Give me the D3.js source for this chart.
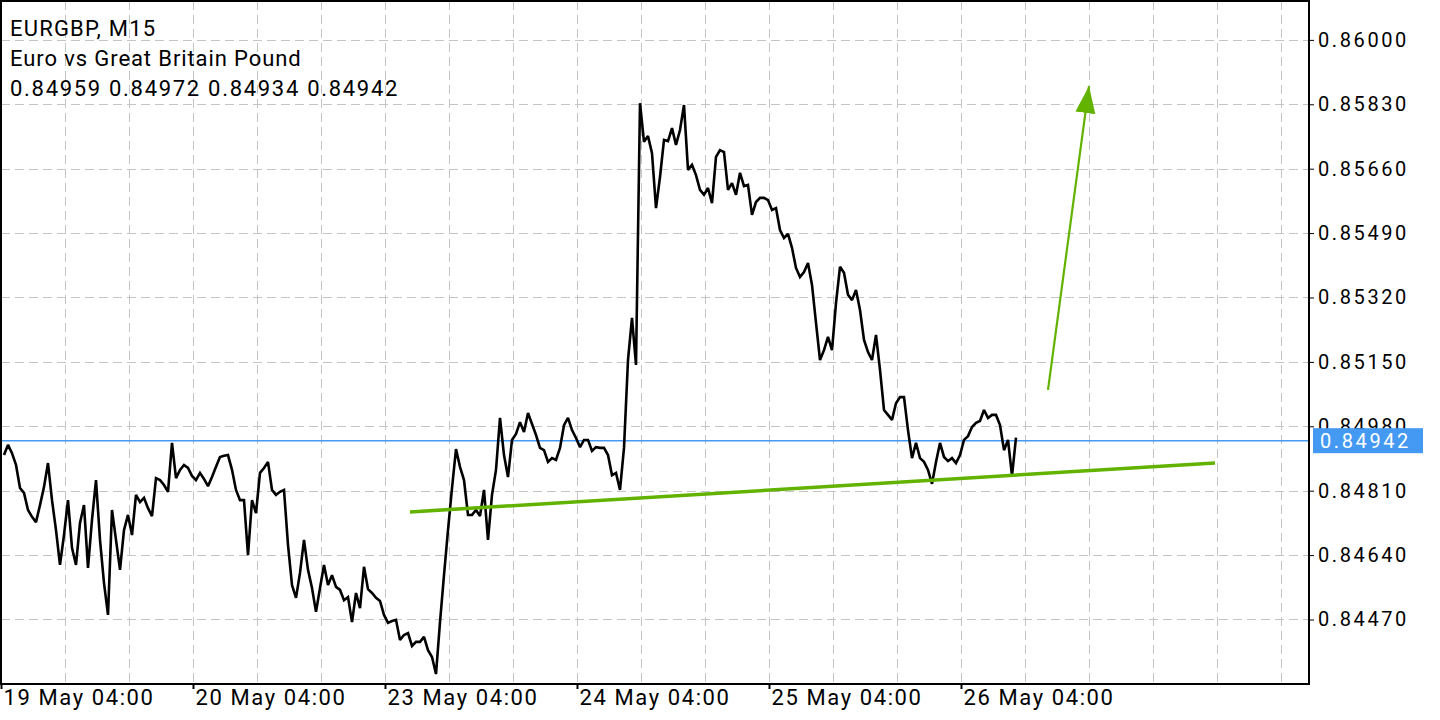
<!DOCTYPE html>
<html><head><meta charset="utf-8">
<script src="https://cdn.jsdelivr.net/npm/d3@7"></script>
<style>
body{margin:0;background:#fff;overflow:hidden}
text{font-family:Roboto, "Noto Sans", sans-serif}
</style>
</head><body><svg id="c" width="1440" height="720"></svg>
<script>
// ---- data ----
const titleLines = ["EURGBP, M15", "Euro vs Great Britain Pound", "0.84959 0.84972 0.84934 0.84942"];
// close prices sampled every 2 bars (30 minutes) of the M15 chart
const closes = [
0.84904,0.84931,0.84909,0.84878,0.84817,0.84804,0.84759,0.84741,0.84727,0.84772,
0.84820,0.84883,0.84785,0.84706,0.84614,0.84693,0.84785,0.84659,0.84614,0.84725,
0.84772,0.84606,0.84733,0.84838,0.84680,0.84566,0.84482,0.84759,0.84680,0.84601,
0.84706,0.84746,0.84693,0.84799,0.84780,0.84791,0.84764,0.84743,0.84843,0.84838,
0.84825,0.84807,0.84936,0.84843,0.84865,0.84878,0.84870,0.84849,0.84838,0.84857,
0.84841,0.84822,0.84846,0.84873,0.84899,0.84902,0.84904,0.84865,0.84812,0.84785,
0.84785,0.84640,0.84785,0.84751,0.84857,0.84870,0.84886,0.84812,0.84799,0.84807,
0.84812,0.84667,0.84561,0.84527,0.84593,0.84680,0.84601,0.84553,0.84490,0.84553,
0.84614,0.84561,0.84587,0.84556,0.84548,
0.84521,0.84529,0.84463,0.84540,0.84500,0.84609,0.84550,0.84540,0.84527,0.84519,
0.84482,0.84461,0.84466,0.84469,0.84416,0.84429,0.84434,0.84400,0.84411,0.84411,
0.84424,0.84389,0.84371,0.84326,0.84463,0.84587,0.84706,0.84817,0.84920,0.84873,
0.84838,0.84746,0.84746,0.84759,0.84743,0.84812,0.84680,0.84799,0.84865,0.85002,
0.84904,0.84846,0.84944,0.84960,0.84991,0.84965,0.85015,0.84986,0.84957,0.84923,
0.84917,0.84886,0.84896,0.84891,0.84923,0.84983,0.85002,0.84970,0.84949,0.84925,
0.84944,0.84944,0.84915,0.84925,0.84923,0.84923,0.84904,0.84851,0.84857,0.84812,
0.84923,0.85155,0.85266,0.85142,0.85833,0.85731,0.85746,0.85701,0.85556,0.85638,
0.85736,0.85733,0.85767,0.85723,0.85762,
0.85828,0.85657,0.85670,0.85643,0.85604,0.85591,0.85609,0.85569,0.85691,0.85709,
0.85704,0.85604,0.85622,0.85591,0.85649,0.85614,0.85617,0.85538,0.85572,0.85583,
0.85583,0.85577,0.85551,0.85556,0.85498,0.85477,0.85488,0.85451,0.85398,0.85374,
0.85387,0.85411,0.85353,0.85253,0.85155,0.85181,0.85216,0.85181,0.85305,0.85401,
0.85385,0.85327,0.85313,0.85340,0.85287,0.85208,0.85176,0.85155,0.85221,0.85129,
0.85023,0.85010,0.84997,0.85041,0.85057,0.85057,0.84970,0.84896,0.84936,0.84896,
0.84886,0.84865,0.84828,0.84886,0.84936,0.84899,0.84888,0.84896,0.84883,0.84904,
0.84944,0.84954,0.84978,0.84989,0.84994,0.85023,0.85002,0.85010,0.85010,0.84983,
0.84917,0.84944,0.84849,0.84950
];
const firstSampleBar = 1.5;      // bar index (15-min bars) of first sample
const barsPerSample = 2;
const visibleBars = 654;         // bars across the plot incl. right shift
const timeLabels = ["19 May 04:00","20 May 04:00","23 May 04:00","24 May 04:00","25 May 04:00","26 May 04:00"];
const timeLabelBars = [0, 96, 192, 288, 384, 480];
const gridEveryBars = 32;
const priceTicks = [0.86000,0.85830,0.85660,0.85490,0.85320,0.85150,0.84980,0.84810,0.84640,0.84470];
const priceMin = 0.842997, priceMax = 0.861053;
const lastPrice = 0.84942;
const trendLineBars = [204.5, 607];
const trendLinePrices = [0.84754, 0.84883];
const arrowBars = [523.5, 544];
const arrowPrices = [0.85076, 0.85878];

// ---- layout / style ----
const L = 1, R = 1309, T = 1, B = 684;
const titleSpacing = [1.2, 0.9, 1.7];
const svg = d3.select("#c");
const x = d3.scaleLinear().domain([0, visibleBars]).range([L, R]);
const y = d3.scaleLinear().domain([priceMin, priceMax]).range([B, 0]);

const gridColor = "#c4c4c4";
const g = svg.append("g");

// grid
g.selectAll("line.hg").data(priceTicks).join("line")
  .attr("x1", L).attr("x2", R).attr("y1", d => Math.round(y(d)) + 0.5).attr("y2", d => Math.round(y(d)) + 0.5)
  .attr("stroke", gridColor).attr("stroke-width", 1).attr("stroke-dasharray", "9,5");
g.selectAll("line.vg").data(d3.range(gridEveryBars, visibleBars, gridEveryBars)).join("line")
  .attr("x1", d => Math.round(x(d)) + 0.5).attr("x2", d => Math.round(x(d)) + 0.5).attr("y1", T).attr("y2", B)
  .attr("stroke", gridColor).attr("stroke-width", 1).attr("stroke-dasharray", "9,5");

// current price line
g.append("line").attr("x1", L).attr("x2", R).attr("y1", y(lastPrice)).attr("y2", y(lastPrice))
  .attr("stroke", "#4499f3").attr("stroke-width", 1.6);

// price line
const line = d3.line().x((d, i) => x(firstSampleBar + i * barsPerSample)).y(d => y(d));
g.append("path").datum(closes).attr("d", line).attr("fill", "none")
  .attr("stroke", "#000").attr("stroke-width", 2.6).attr("stroke-linejoin", "miter").attr("stroke-miterlimit", 2);

// trend line
const green = "#62b300";
g.append("line")
  .attr("x1", x(trendLineBars[0])).attr("y1", y(trendLinePrices[0]))
  .attr("x2", x(trendLineBars[1])).attr("y2", y(trendLinePrices[1]))
  .attr("stroke", green).attr("stroke-width", 3.5);

// arrow
const defs = svg.append("defs");
defs.append("marker").attr("id", "ah").attr("markerUnits", "userSpaceOnUse")
  .attr("markerWidth", 30).attr("markerHeight", 22).attr("refX", 27).attr("refY", 10)
  .attr("orient", "auto")
  .append("path").attr("d", "M0,0 L27,10 L0,20 Z").attr("fill", green);
const ax1 = x(arrowBars[0]), ay1 = y(arrowPrices[0]), ax2 = x(arrowBars[1]), ay2 = y(arrowPrices[1]);
g.append("line").attr("x1", ax1).attr("y1", ay1).attr("x2", ax2).attr("y2", ay2)
  .attr("stroke", green).attr("stroke-width", 2.2).attr("marker-end", "url(#ah)");

// frame
g.append("rect").attr("x", L).attr("y", T).attr("width", R - L).attr("height", B - T)
  .attr("fill", "none").attr("stroke", "#000").attr("stroke-width", 2);

// y axis
const yAxis = d3.axisRight(y).tickValues(priceTicks).tickFormat(d3.format(".5f")).tickSize(5).tickPadding(4);
const ya = svg.append("g").attr("transform", `translate(${R},0)`).call(yAxis);
ya.select(".domain").remove();
ya.selectAll("line").attr("stroke", "#000").attr("stroke-width", 1);
ya.selectAll("text").attr("font-size", 20).attr("letter-spacing", 2.6).attr("fill", "#000")
  .attr("font-family", "Roboto");

// x axis
const xAxis = d3.axisBottom(x).tickValues(timeLabelBars).tickFormat((d, i) => timeLabels[i]).tickSize(5).tickPadding(4);
const xa = svg.append("g").attr("transform", `translate(0,${B})`).call(xAxis);
xa.select(".domain").remove();
xa.selectAll("line").attr("stroke", "#000").attr("stroke-width", 2);
xa.selectAll("text").attr("font-size", 22).attr("letter-spacing", 1.6).attr("fill", "#000")
  .attr("text-anchor", "start").attr("dx", 2).attr("dy", "0.55em").attr("font-family", "Roboto");

// current price box
const lpY = y(lastPrice);
svg.append("rect").attr("x", R + 4).attr("y", lpY - 12.5).attr("width", 110).attr("height", 25).attr("fill", "#4499f3");
svg.append("text").attr("x", R + 11).attr("y", lpY).attr("dy", "0.36em").text(d3.format(".5f")(lastPrice))
  .attr("font-size", 20).attr("letter-spacing", 2.6).attr("fill", "#fff");

// title
svg.selectAll("text.title").data(titleLines).join("text").attr("class", "title")
  .attr("x", 10).attr("y", (d, i) => 36 + i * 30).text(d => d)
  .attr("font-size", 22).attr("letter-spacing", (d, i) => titleSpacing[i]).attr("fill", "#000");
</script>
</body></html>
